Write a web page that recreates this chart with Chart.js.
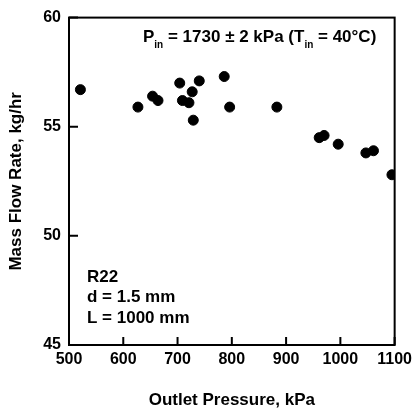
<!DOCTYPE html>
<html>
<head>
<meta charset="utf-8">
<script src="https://cdn.jsdelivr.net/npm/chart.js@4.4.1/dist/chart.umd.min.js"></script>
<style>
  html, body { margin: 0; padding: 0; background: #fff; }
  #wrap { width: 417px; height: 414px; }
</style>
</head>
<body>
<div id="wrap"><canvas id="flowChart" width="417" height="414"></canvas></div>
<script>
// outlet pressure (kPa) and mass flow rate (kg/hr)
const outletPressure = [521, 627, 654, 664, 704, 709, 721, 727, 729, 740, 786, 796, 883, 961, 970, 996, 1047, 1061, 1095];
const massFlow = [56.7, 55.9, 56.4, 56.2, 57.0, 56.2, 56.1, 56.6, 55.3, 57.1, 57.3, 55.9, 55.9, 54.5, 54.6, 54.2, 53.8, 53.9, 52.8];
const xTicks = [500, 600, 700, 800, 900, 1000, 1100];
const yTicks = [45, 50, 55, 60];

const FONT = 'Liberation Sans, Arial, Helvetica, sans-serif';

const points = outletPressure.map((p, i) => ({ x: p, y: massFlow[i] }));

// box around plot + inward tick marks + text notes
const framePlugin = {
    id: 'frame',
    afterDraw(chart) {
        const c = chart.ctx;
        const a = chart.chartArea;
        const xs = chart.scales.x, ys = chart.scales.y;
        c.save();
        c.strokeStyle = '#000';
        c.lineWidth = 2;
        c.strokeRect(a.left, a.top, a.right - a.left, a.bottom - a.top);
        c.beginPath();
        yTicks.forEach(v => {
            const py = ys.getPixelForValue(v);
            c.moveTo(a.left, py); c.lineTo(a.left + 9, py);
        });
        xTicks.forEach(v => {
            const px = xs.getPixelForValue(v);
            c.moveTo(px, a.bottom); c.lineTo(px, a.bottom - 8);
        });
        c.stroke();

        c.fillStyle = '#000';
        c.textBaseline = 'alphabetic';
        c.textAlign = 'left';
        // header line with subscripts
        const big = 'bold 17px ' + FONT, small = 'bold 10px ' + FONT;
        let x = a.left + 74;
        const base = a.top + 24;
        const parts = [
            ['P', big, 0], ['in', small, 6], [' = 1730 \u00b1 2 kPa (T', big, 0],
            ['in', small, 6], [' = 40\u00b0C)', big, 0]
        ];
        parts.forEach(([t, f, dy]) => {
            c.font = f;
            c.fillText(t, x, base + dy);
            x += c.measureText(t).width;
        });
        // case notes
        c.font = big;
        ['R22', 'd = 1.5 mm', 'L = 1000 mm'].forEach((t, i) => {
            c.fillText(t, a.left + 18, a.top + 264 + i * 20.5);
        });
        c.restore();
    }
};

new Chart(document.getElementById('flowChart').getContext('2d'), {
    type: 'scatter',
    data: {
        datasets: [{
            label: 'R22',
            data: points,
            backgroundColor: '#000',
            borderColor: '#000',
            pointRadius: 5,
            pointHoverRadius: 5
        }]
    },
    options: {
        responsive: false,
        animation: false,
        layout: { padding: { left: 0, right: 19, top: 15, bottom: 0 } },
        plugins: {
            legend: { display: false },
            tooltip: { enabled: false }
        },
        scales: {
            x: {
                type: 'linear',
                min: 500,
                max: 1100,
                afterBuildTicks: s => { s.ticks = xTicks.map(v => ({ value: v })); },
                afterFit: s => { s.height = 69; },
                grid: { display: false, drawTicks: false },
                border: { display: false },
                ticks: {
                    color: '#000',
                    padding: 5,
                    callback: v => String(v),
                    font: { family: FONT, size: 16, weight: 'bold' }
                },
                title: {
                    display: true,
                    text: 'Outlet Pressure, kPa',
                    color: '#000',
                    padding: { top: 0, bottom: 3 },
                    font: { family: FONT, size: 17, weight: 'bold' }
                }
            },
            y: {
                type: 'linear',
                min: 45,
                max: 60,
                afterBuildTicks: s => { s.ticks = yTicks.map(v => ({ value: v })); },
                afterFit: s => { s.width = 69; },
                grid: { display: false, drawTicks: false },
                border: { display: false },
                ticks: {
                    color: '#000',
                    padding: 8,
                    callback: v => String(v),
                    font: { family: FONT, size: 16, weight: 'bold' }
                },
                title: {
                    display: true,
                    text: 'Mass Flow Rate, kg/hr',
                    color: '#000',
                    padding: { top: 6, bottom: 0 },
                    font: { family: FONT, size: 17, weight: 'bold' }
                }
            }
        }
    },
    plugins: [framePlugin]
});
</script>
</body>
</html>
